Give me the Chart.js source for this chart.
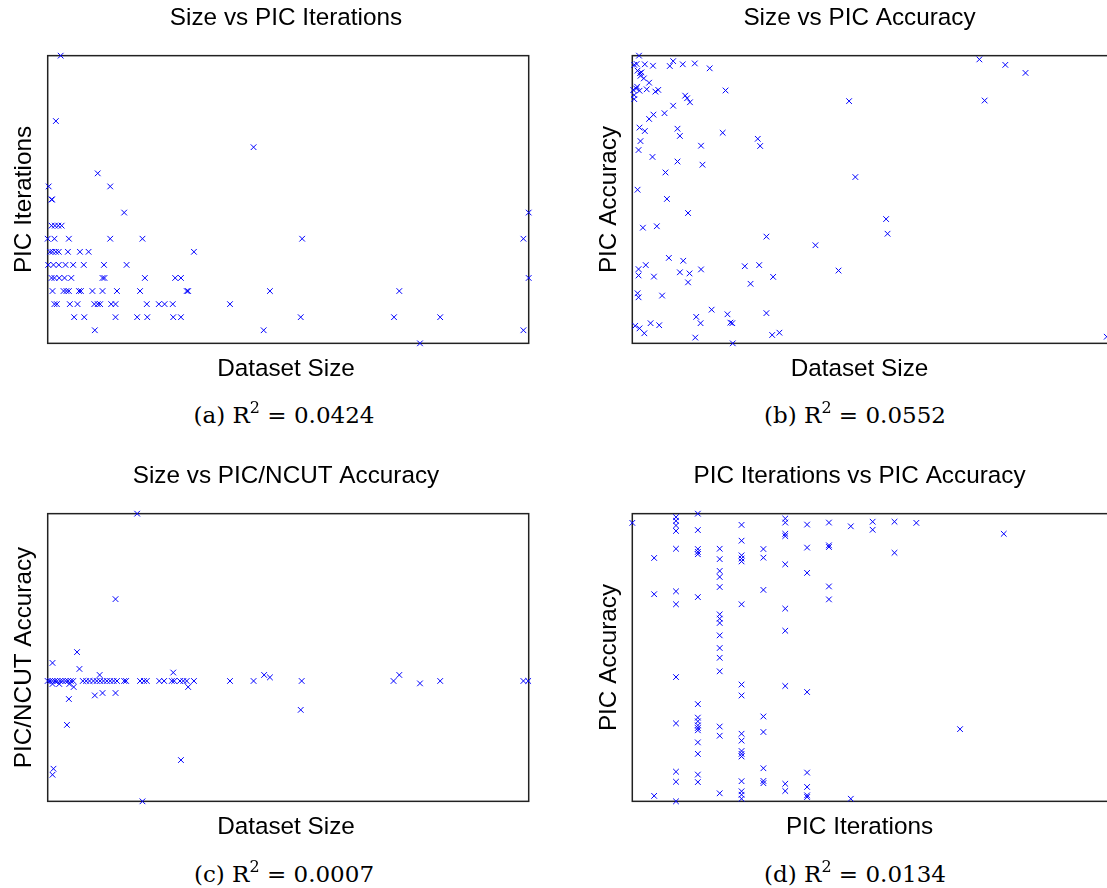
<!DOCTYPE html>
<html>
<head>
<meta charset="utf-8">
<script src="https://cdn.jsdelivr.net/npm/chart.js@4.4.1/dist/chart.umd.min.js"></script>
<style>
  html, body { margin: 0; padding: 0; background: #fff; }
  body { width: 1107px; height: 888px; overflow: hidden; position: relative; }
  canvas { position: absolute; }
  .cap { position: absolute; width: 300px; text-align: center; font-family: "DejaVu Serif", serif; font-size: 23px; line-height: 30px; color: #000; }
  .cap sup { font-size: 16px; line-height: 0; vertical-align: baseline; position: relative; top: -10px; }
</style>
</head>
<body>
<canvas id="cA" width="572" height="400" style="left:0px;top:0px"></canvas>
<canvas id="cB" width="549" height="400" style="left:585px;top:0px"></canvas>
<canvas id="cC" width="572" height="400" style="left:0px;top:458px"></canvas>
<canvas id="cD" width="549" height="400" style="left:585px;top:458px"></canvas>
<div class="cap" style="left:134px;top:400px">(a) R<sup>2</sup> = 0.0424</div>
<div class="cap" style="left:705px;top:400px">(b) R<sup>2</sup> = 0.0552</div>
<div class="cap" style="left:134px;top:859px">(c) R<sup>2</sup> = 0.0007</div>
<div class="cap" style="left:705px;top:859px">(d) R<sup>2</sup> = 0.0134</div>
<script>
// (a) dataset size (relative units, no ticks shown) vs PIC iterations
const sizeA = [2.7, 1.7, 42.8, 10.4, 0.2, 13.0, 0.8, 0.9, 15.9, 100,
  0.8, 1.5, 2.2, 2.9,
  0, 1.4, 4.4, 13.0, 19.7, 52.9, 98.9,
  0.5, 1.0, 1.7, 2.3, 4.2, 6.7, 8.5, 30.4,
  0.1, 1.2, 2.3, 3.7, 5.3, 7.5, 11.7, 16.4,
  0.8, 1.4, 2.4, 3.5, 4.9, 11.4, 11.8, 20.2, 26.5, 27.7, 100,
  1.0, 3.3, 3.9, 4.4, 6.5, 6.9, 9.3, 11.4, 14.4, 19.2, 28.9, 29.2, 46.2, 73.1,
  1.4, 1.9, 4.6, 6.2, 9.7, 10.4, 10.9, 13.2, 14.1, 20.6, 23.1, 24.3, 26.0, 37.9,
  5.5, 7.6, 14.1, 18.6, 20.7, 26.1, 27.7, 52.6, 72.0, 81.6,
  9.8, 44.9, 98.9,
  77.4];
const iterA = [22, 17, 15, 13, 12, 12, 11, 11, 10, 10,
  9, 9, 9, 9,
  8, 8, 8, 8, 8, 8, 8,
  7, 7, 7, 7, 7, 7, 7, 7,
  6, 6, 6, 6, 6, 6, 6, 6,
  5, 5, 5, 5, 5, 5, 5, 5, 5, 5, 5,
  4, 4, 4, 4, 4, 4, 4, 4, 4, 4, 4, 4, 4, 4,
  3, 3, 3, 3, 3, 3, 3, 3, 3, 3, 3, 3, 3, 3,
  2, 2, 2, 2, 2, 2, 2, 2, 2, 2,
  1, 1, 1,
  0];

// (b) dataset size vs PIC accuracy
const sizeB = [1.4, 0.4, 0.9, 2.6, 4.3, 7.8, 8.5, 10.5, 13.0, 16.1,
  1.1, 1.6, 1.9, 1.7, 2.4, 3.5,
  0.2, 0.8, 1.0, 1.5, 3.0, 4.8, 5.4, 19.4,
  0.4, 0.4,
  11.0, 11.4, 12.0, 8.5,
  6.7, 4.4, 3.5,
  1.5, 2.6, 9.4, 9.9, 18.8, 26.1, 26.6,
  1.7, 1.3, 14.3,
  4.2, 9.4, 14.6,
  6.9, 1.1, 7.2, 11.6, 2.2, 5.1, 27.9, 38.1,
  7.6, 10.6,
  1.3, 2.8, 1.3, 4.5, 9.9, 11.9, 14.3, 11.6, 23.4, 26.4, 29.3, 24.6, 42.9,
  1.1, 1.3, 6.2,
  16.5, 13.3, 19.8, 27.9, 14.2, 20.4, 20.8,
  0.6, 1.5, 2.5, 3.8, 5.6, 13.1, 20.9, 29.1, 30.6,
  72.2, 77.6, 81.8, 45.1, 73.3, 46.4, 52.8, 53.1, 98.7];
const accB = [100, 96.8, 97.1, 97.0, 96.5, 96.4, 98.1, 97.0, 97.3, 95.6,
  94.8, 93.9, 94.2, 93.0, 92.1, 90.6,
  88.1, 88.6, 89.2, 87.8, 88.3, 87.5, 88.1, 87.9,
  86.3, 84.9,
  86.1, 85.2, 83.8, 82.6,
  80.0, 79.5, 78.0,
  75.0, 73.8, 74.6, 72.1, 73.2, 71.1, 68.6,
  70.3, 67.2, 68.7,
  64.8, 63.2, 62.1,
  59.4, 53.4, 50.2, 45.3, 40.2, 40.7, 37.1, 34.1,
  29.7, 28.7,
  25.8, 27.2, 23.6, 23.2, 24.7, 24.3, 25.7, 21.2, 26.8, 27.2, 23.1, 20.7, 25.3,
  17.4, 16.0, 16.6,
  11.7, 9.2, 10.1, 10.5, 7.0, 7.2, 7.0,
  6.1, 5.2, 3.5, 7.0, 6.3, 2.0, 0, 2.9, 3.7,
  98.7, 96.8, 94.0, 84.2, 84.4, 57.8, 43.2, 38.1, 2.3];

// (c) dataset size vs PIC/NCUT accuracy ratio
const sizeC = [18.6, 19.7, 14.1, 6.1, 1.0, 6.6, 10.8, 26.1, 45.0, 46.2,
  73.1, 77.4, 52.6, 1.0, 2.4, 4.5, 5.4, 29.2, 4.4, 9.8,
  11.4, 14.1, 4.0, 27.7, 1.2, 1.0,
  0, 0.5, 1.0, 1.5, 2.0, 2.6, 3.1, 3.7, 4.2, 4.8,
  5.3, 7.3, 8.0, 8.7, 9.5, 10.2, 10.9, 11.6, 12.3, 13.0,
  13.7, 14.4, 15.9, 16.3, 19.2, 20.0, 20.6, 23.2, 24.2, 25.8,
  26.3, 27.5, 28.2, 28.9, 30.4, 37.9, 42.8, 52.8, 71.9, 81.6,
  98.9, 99.9];
const ratioC = [2.39, 0, 1.68, 1.24, 1.15, 1.10, 1.05, 1.07, 1.05, 1.03,
  1.05, 0.98, 0.76, 0.975, 0.975, 0.975, 0.95, 0.95, 0.85, 0.88,
  0.90, 0.90, 0.635, 0.343, 0.271, 0.221,
  1, 1, 1, 1, 1, 1, 1, 1, 1, 1,
  1, 1, 1, 1, 1, 1, 1, 1, 1, 1,
  1, 1, 1, 1, 1, 1, 1, 1, 1, 1,
  1, 1, 1, 1, 1, 1, 1, 1, 1, 1,
  1, 1];

// (d) PIC iterations vs PIC accuracy
const iterD = [0,
  1, 1, 1,
  2, 2, 2, 2, 2, 2, 2, 2, 2, 2, 2, 2,
  3, 3, 3, 3, 3, 3, 3, 3, 3, 3, 3, 3, 3, 3, 3, 3,
  4, 4, 4, 4, 4, 4, 4, 4, 4, 4, 4, 4, 4, 4, 4,
  5, 5, 5, 5, 5, 5, 5, 5, 5, 5, 5, 5, 5, 5, 5, 5, 5,
  6, 6, 6, 6, 6, 6, 6, 6,
  7, 7, 7, 7, 7, 7, 7, 7, 7, 7,
  8, 8, 8, 8, 8, 8, 8, 8,
  9, 9, 9, 9, 9,
  10, 10, 11, 11, 12, 12, 13, 15, 17];
const accD = [96.8,
  84.6, 72.0, 1.9,
  98.8, 97.5, 95.9, 94.0, 87.8, 73.0, 68.5, 43.2, 27.1, 10.3, 6.8, 0,
  100, 94.3, 87.7, 86.7, 85.9, 71.0, 33.8, 29.1, 27.8, 26.4, 25.5, 24.7, 20.5, 16.5, 9.3, 6.7,
  87.8, 84.2, 80.1, 78.0, 74.5, 65.0, 63.5, 62.0, 57.7, 53.3, 49.9, 45.2, 26.0, 22.8, 2.8,
  96.1, 90.6, 85.5, 84.4, 83.4, 68.5, 40.6, 36.8, 23.5, 21.1, 17.5, 16.5, 15.6, 7.0, 3.5, 2.3, 0.9,
  87.7, 84.7, 73.5, 29.5, 24.1, 11.5, 7.1, 6.3,
  98.3, 96.9, 93.0, 92.2, 82.4, 67.0, 59.3, 40.1, 6.1, 3.6,
  96.2, 88.2, 79.4, 38.0, 10.0, 5.0, 2.1, 1.5,
  96.9, 89.0, 88.4, 74.7, 70.2,
  95.6, 0.9, 97.2, 94.4, 97.2, 86.4, 96.8, 25.1, 93.0];

const FONT = { family: '"Liberation Sans", Arial, sans-serif', size: 24.3, weight: 'normal' };

// box around the plot area, drawn under the markers
const frame = {
  id: 'frame',
  beforeDatasetsDraw(chart) {
    const { ctx, chartArea: a } = chart;
    ctx.save();
    ctx.strokeStyle = '#222';
    ctx.lineWidth = 1.5;
    ctx.strokeRect(a.left, a.top, a.right - a.left, a.bottom - a.top);
    ctx.restore();
  }
};

function scatter(id, xs, ys, o) {
  const pts = xs.map((x, i) => ({ x: x, y: ys[i] }));
  return new Chart(document.getElementById(id), {
    type: 'scatter',
    data: {
      datasets: [{
        data: pts,
        pointStyle: 'crossRot',
        pointRadius: 4,
        pointHoverRadius: 4,
        pointBorderColor: '#0000ff',
        pointBackgroundColor: '#0000ff',
        pointBorderWidth: 1,
        clip: false
      }]
    },
    options: {
      responsive: false,
      animation: false,
      layout: { padding: 0 },
      plugins: {
        legend: { display: false },
        tooltip: { enabled: false },
        title: { display: true, text: o.title, font: FONT, color: '#000', padding: { top: 3.4, bottom: 23.1 } },
        subtitle: { display: true, position: 'bottom', text: o.xLabel, font: FONT, color: '#000', padding: { top: 11.3, bottom: 16.2 } }
      },
      scales: {
        x: { type: 'linear', display: false, min: o.xMin, max: o.xMax },
        y: {
          type: 'linear',
          min: o.yMin, max: o.yMax,
          ticks: { display: false },
          grid: { display: false },
          border: { display: false },
          title: { display: true, text: o.yLabel, font: FONT, color: '#000', padding: { top: 9.4, bottom: 0 } },
          afterFit(s) { s.width = o.yWidth; }
        },
        // empty right-hand axis, only reserves the space beside the box
        yR: {
          type: 'linear', position: 'right', min: 0, max: 1,
          ticks: { display: false },
          grid: { display: false },
          border: { display: false },
          afterFit(s) { s.width = o.padRight; }
        }
      }
    },
    plugins: [frame]
  });
}

scatter('cA', sizeA, iterA, { title: 'Size vs PIC Iterations', xLabel: 'Dataset Size', yLabel: 'PIC Iterations',
  xMin: 0, xMax: 100, yMin: 0, yMax: 22, padRight: 43.3, yWidth: 47.7 });
scatter('cB', sizeB, accB, { title: 'Size vs PIC Accuracy', xLabel: 'Dataset Size', yLabel: 'PIC Accuracy',
  xMin: 0, xMax: 100, yMin: 0, yMax: 100, padRight: 21, yWidth: 47.3 });
scatter('cC', sizeC, ratioC, { title: 'Size vs PIC/NCUT Accuracy', xLabel: 'Dataset Size', yLabel: 'PIC/NCUT Accuracy',
  xMin: 0, xMax: 100, yMin: 0, yMax: 2.39, padRight: 43.3, yWidth: 47.7 });
scatter('cD', iterD, accD, { title: 'PIC Iterations vs PIC Accuracy', xLabel: 'PIC Iterations', yLabel: 'PIC Accuracy',
  xMin: 0, xMax: 22, yMin: 0, yMax: 100, padRight: 21, yWidth: 47.3 });
</script>
</body>
</html>
